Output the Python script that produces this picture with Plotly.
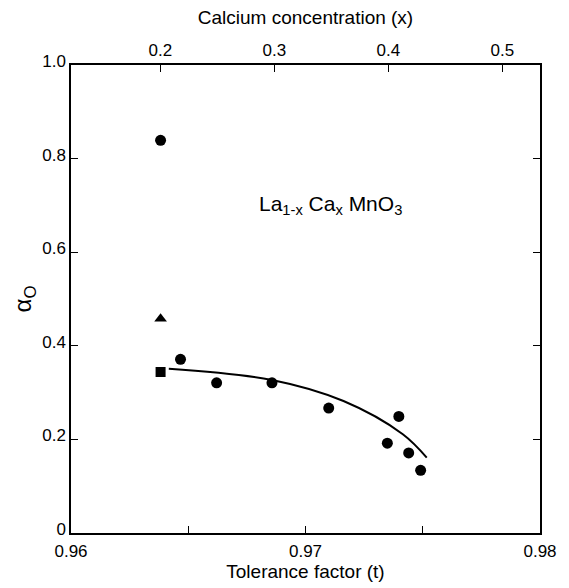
import plotly.graph_objects as go

# Data
circ_t = [0.96382, 0.96467, 0.96621, 0.96857, 0.97099, 0.97349, 0.97398, 0.97440, 0.97491]
circ_a = [0.839, 0.371, 0.321, 0.321, 0.267, 0.192, 0.249, 0.171, 0.134]
tri_t = [0.96382]
tri_a = [0.458]
sq_t = [0.96382]
sq_a = [0.344]
fit_t = [0.96417, 0.96857, 0.97162, 0.97415, 0.97517]
fit_a = [0.351, 0.327, 0.282, 0.211, 0.161]

x_ticks = [0.96, 0.97, 0.98]
x_ticklabels = ["0.96", "0.97", "0.98"]
y_ticks = [0, 0.2, 0.4, 0.6, 0.8, 1.0]
y_ticklabels = ["0", "0.2", "0.4", "0.6", "0.8", "1.0"]
ca_ticks = [0.2, 0.3, 0.4, 0.5]
ca_ticklabels = ["0.2", "0.3", "0.4", "0.5"]

FONT = "Liberation Sans, Arial, sans-serif"

fig = go.Figure()
fig.add_trace(go.Scatter(x=fit_t, y=fit_a, mode="lines", line=dict(color="black", width=2, shape="spline", smoothing=1.0),
                         showlegend=False, hoverinfo="skip"))
fig.add_trace(go.Scatter(x=circ_t, y=circ_a, mode="markers",
                         marker=dict(symbol="circle", size=11, color="black"), showlegend=False))
fig.add_trace(go.Scatter(x=tri_t, y=tri_a, mode="markers",
                         marker=dict(symbol="triangle-up", size=11, color="black"), showlegend=False))
fig.add_trace(go.Scatter(x=sq_t, y=sq_a, mode="markers",
                         marker=dict(symbol="square", size=10, color="black"), showlegend=False))
# top axis carrier trace (invisible)
fig.add_trace(go.Scatter(x=[0.3], y=[0.5], xaxis="x2", mode="markers",
                         marker=dict(opacity=0), showlegend=False, hoverinfo="skip"))

axis_common = dict(showline=True, linecolor="black", linewidth=1.5, showgrid=False, zeroline=False,
                   ticks="inside", ticklen=7, tickcolor="black", tickwidth=1,
                   tickfont=dict(family=FONT, size=17, color="black"))

fig.update_layout(
    width=569, height=588,
    margin=dict(l=71, r=24, t=65, b=54),
    paper_bgcolor="white", plot_bgcolor="white",
    font=dict(family=FONT, color="black"),
    xaxis=dict(range=[0.96, 0.98], tickvals=x_ticks, ticktext=x_ticklabels,
               minor=dict(ticks="inside", tickvals=[0.965, 0.975], ticklen=7, tickcolor="black"),
               ticklabelstandoff=2,
               title=dict(text="Tolerance factor (t)", font=dict(family=FONT, size=19), standoff=2),
               mirror=False, **axis_common),
    xaxis2=dict(range=[0.1217, 0.533], overlaying="x", side="top", tickvals=ca_ticks, ticktext=ca_ticklabels,
                title=dict(text="Calcium concentration (x)", font=dict(family=FONT, size=19), standoff=12),
                **axis_common),
    yaxis=dict(range=[0, 1.0], tickvals=y_ticks, ticktext=y_ticklabels, mirror="ticks",
               ticklabelshift=-4,
               title=dict(text="α<sub>O</sub>", font=dict(family=FONT, size=24), standoff=4),
               **axis_common),
    annotations=[dict(x=0.97105, y=0.70, xref="x", yref="y", showarrow=False,
                      text="La<sub>1-x</sub> Ca<sub>x</sub> MnO<sub>3</sub>",
                      font=dict(family=FONT, size=21, color="black"))],
)

fig.write_html("out.html", config={"displayModeBar": False},
               post_script="document.body.style.margin='0';document.body.style.padding='0';")
